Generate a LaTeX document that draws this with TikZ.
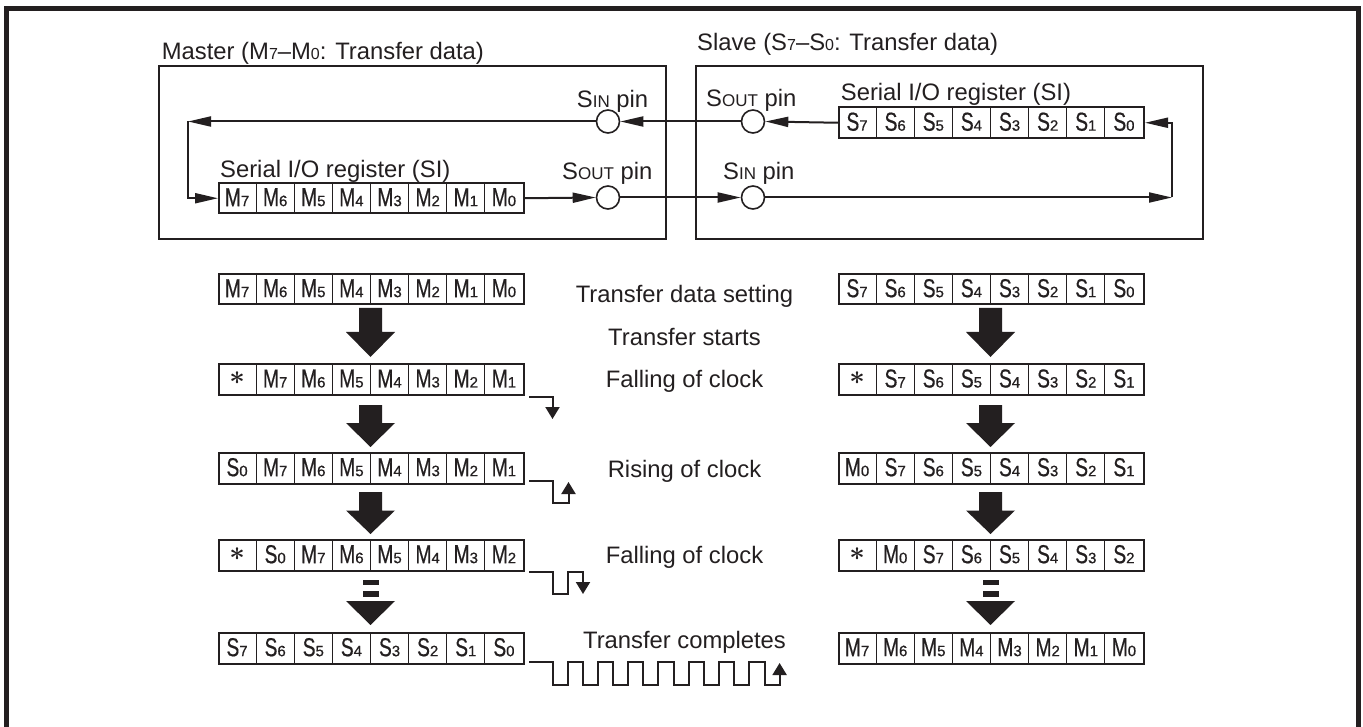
\documentclass[tikz,border=0pt]{standalone}
\usepackage{fontspec}
\setmainfont{Liberation Sans}
\newfontface\cellf{Liberation Sans}[FakeBold=0.6]
\usetikzlibrary{arrows.meta}
\definecolor{ink}{RGB}{35,31,32}
\newcommand\fsz[1]{\fontsize{#1}{#1}\selectfont}
\newcommand\sbd[1]{{\fsz{16}#1}}
\newcommand\smc[1]{{\fsz{17}#1}}
\newcommand\cl[2]{{\cellf\scalebox{0.74}[1]{\fsz{26}#1}{\fsz{15}#2}}}
\newcommand\cM[1]{\cl{M}{#1}}
\newcommand\cS[1]{\cl{S}{#1}}
\newcommand\cA{{\fsz{10}\boldmath\scalebox{2.7}{$\ast$}}}
\tikzset{
  wire/.style={draw=ink, line width=2pt},
  pinc/.style={circle, draw=ink, line width=1.6pt, minimum size=23pt, inner sep=0pt, fill=white},
  regbox/.style={draw=ink, line width=2pt, minimum width=305pt, minimum height=30.5pt, inner sep=0pt, anchor=north west},
  cdiv/.style={draw=ink, line width=1.2pt},
  ctext/.style={text=ink, inner sep=0pt},
  lbl/.style={text=ink, font=\fsz{23.8}, inner sep=0pt, anchor=base west},
  midtext/.style={text=ink, font=\fsz{23.8}, inner sep=0pt, anchor=base},
  sarrow/.style={-{Triangle[length=23pt,width=10pt]}},
  carrow/.style={-{Triangle[length=12pt,width=14pt]}},
  unitbox/.style={draw=ink, line width=2pt, inner sep=0pt, anchor=north west},
}
\newcommand\regrow[4]{%
  \node[regbox] (#1) at (#2,#3) {};
  \foreach \cv [count=\i] in {#4} {
    \node[ctext] (#1-\i) at (#2+\i*38.125-19.0625, #3+15.25) {\cv};
  }
  \foreach \i in {1,...,7} {
    \draw[cdiv] (#2+\i*38.125,#3) -- ++(0,30.5);
  }
}
\newcommand\bigarr[4]{%
  \fill[ink] (#1-11.5,#2) -- (#1+11.5,#2) -- (#1+11.5,#3) -- (#1+24.5,#3) -- (#1,#4) -- (#1-24.5,#3) -- (#1-11.5,#3) -- cycle;
}
\newcommand\dasharr[1]{%
  \fill[ink] (#1-8,580) rectangle (#1+8,585);
  \fill[ink] (#1-8,591) rectangle (#1+8,597);
  \fill[ink] (#1-24.5,601) -- (#1+24.5,601) -- (#1,625) -- cycle;
}
\begin{document}
\begin{tikzpicture}[x=1pt,y=-1pt]
\useasboundingbox (0,0) rectangle (1363,727);
\fill[white] (0,0) rectangle (1363,727);
% outer frame
\draw[ink, line width=5pt] (6.7,727) -- (6.7,8.3) -- (1358.3,8.3) -- (1358.3,727);

% master / slave boxes
\node[unitbox, minimum width=507pt, minimum height=173pt] (master) at (158,65) {};
\node[unitbox, minimum width=507pt, minimum height=173pt] (slave) at (695,65) {};
\node[lbl] (mlab) at (161.7,59.3) {Master (M\sbd{7}–M\sbd{0}: Transfer data)};
\node[lbl] (slab) at (697,50.7) {Slave (S\sbd{7}–S\sbd{0}: Transfer data)};

% pins
\node[pinc] (msin) at (608,121.5) {};
\node[pinc] (msout) at (608,197.5) {};
\node[pinc] (ssout) at (753,121.5) {};
\node[pinc] (ssin) at (753,197.5) {};
\node[lbl] (msinl) at (576.7,107.3) {S\smc{IN} pin};
\node[lbl] (msoutl) at (562,179.3) {S\smc{OUT} pin};
\node[lbl] (ssoutl) at (706,106.7) {S\smc{OUT} pin};
\node[lbl] (ssinl) at (723,179.3) {S\smc{IN} pin};

% registers in boxes
\node[lbl] (mregl) at (220,177.7) {Serial I/O register (SI)};
\node[lbl] (sregl) at (840.7,101) {Serial I/O register (SI)};
\regrow{mreg}{218}{182}{\cM{7},\cM{6},\cM{5},\cM{4},\cM{3},\cM{2},\cM{1},\cM{0}}
\regrow{sreg}{838}{106.5}{\cS{7},\cS{6},\cS{5},\cS{4},\cS{3},\cS{2},\cS{1},\cS{0}}

\coordinate (mc) at (188,121.5);
\coordinate (sc) at (1172,197.5);
\draw[wire,sarrow] (msin.west) -- (mc);
\draw[wire,sarrow] (mc) |- (mreg.west);
\draw[wire,sarrow] (mreg.east) -- (msout.west);
\draw[wire,sarrow] (msout.east) -- (ssin.west);
\draw[wire,sarrow] (ssin.east) -- (sc);
\draw[wire,sarrow] (sc) |- (sreg.east);
\draw[wire,sarrow] (sreg.west) -- (ssout.east);
\draw[wire,sarrow] (ssout.west) -- (msin.east);

% left column
\regrow{l1}{218}{273}{\cM{7},\cM{6},\cM{5},\cM{4},\cM{3},\cM{2},\cM{1},\cM{0}}
\regrow{l2}{218}{363.3}{\cA,\cM{7},\cM{6},\cM{5},\cM{4},\cM{3},\cM{2},\cM{1}}
\regrow{l3}{218}{452}{\cS{0},\cM{7},\cM{6},\cM{5},\cM{4},\cM{3},\cM{2},\cM{1}}
\regrow{l4}{218}{539}{\cA,\cS{0},\cM{7},\cM{6},\cM{5},\cM{4},\cM{3},\cM{2}}
\regrow{l5}{218}{632}{\cS{7},\cS{6},\cS{5},\cS{4},\cS{3},\cS{2},\cS{1},\cS{0}}
\bigarr{370.5}{308}{332}{357}
\bigarr{370.5}{405}{423}{447}
\bigarr{370.5}{492}{510.5}{534}
\dasharr{370.5}

% right column
\regrow{r1}{838}{273}{\cS{7},\cS{6},\cS{5},\cS{4},\cS{3},\cS{2},\cS{1},\cS{0}}
\regrow{r2}{838}{363.3}{\cA,\cS{7},\cS{6},\cS{5},\cS{4},\cS{3},\cS{2},\cS{1}}
\regrow{r3}{838}{452}{\cM{0},\cS{7},\cS{6},\cS{5},\cS{4},\cS{3},\cS{2},\cS{1}}
\regrow{r4}{838}{539}{\cA,\cM{0},\cS{7},\cS{6},\cS{5},\cS{4},\cS{3},\cS{2}}
\regrow{r5}{838}{632}{\cM{7},\cM{6},\cM{5},\cM{4},\cM{3},\cM{2},\cM{1},\cM{0}}
\bigarr{990.5}{308}{332}{357}
\bigarr{990.5}{405}{423}{447}
\bigarr{990.5}{492}{510.5}{534}
\dasharr{990.5}

% middle texts
\node[midtext] (t1) at (684.5,303) {Transfer data setting};
\node[midtext] (t2) at (684.5,345) {Transfer starts};
\node[midtext] (t3) at (684.5,388) {Falling of clock};
\node[midtext] (t4) at (684.5,477) {Rising of clock};
\node[midtext] (t5) at (684.5,563) {Falling of clock};
\node[midtext] (t6) at (684.5,648) {Transfer completes};

% clock waveforms
\draw[wire,carrow] (529,397) -- (552.5,397) -- (552.5,419);
\draw[wire,carrow] (529,481) -- (552.5,481) -- (552.5,503) -- (568.5,503) -- (568.5,482);
\draw[wire,carrow] (529,572) -- (552.5,572) -- (552.5,594) -- (568,594) -- (568,572) -- (583,572) -- (583,594);
\draw[wire,carrow] (529,662) -- (552.5,662)
  \foreach \k in {1,...,7} { -- ++(0,23) -- ++(15,0) -- ++(0,-23) -- ++(15.3,0) }
  -- ++(0,23) -- ++(15,0) -- ++(0,-22);
\end{tikzpicture}
\end{document}
